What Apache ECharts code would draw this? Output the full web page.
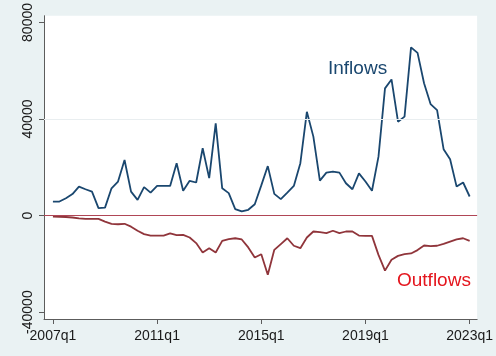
<!DOCTYPE html>
<html>
<head>
<meta charset="utf-8">
<script src="https://cdn.jsdelivr.net/npm/echarts@6/dist/echarts.min.js"></script>
<style>
  html, body { margin: 0; padding: 0; background: #eaf2f3; }
  #chart { width: 496px; height: 356px; }
</style>
</head>
<body>
<div id="chart"></div>
<script>
// Quarterly flows, 2007q1 .. 2023q1
const quarters = [];
for (let y = 2007; y <= 2023; y++) {
  for (let q = 1; q <= 4; q++) {
    if (y === 2023 && q > 1) break;
    quarters.push(y + 'q' + q);
  }
}

const inflows = [
  5800, 5800, 7200, 8900, 12000, 10900, 9900, 3100, 3300, 11300,
  14100, 23000, 9900, 6500, 11800, 9500, 12300, 12300, 12300, 21700,
  10300, 14400, 13700, 27900, 15500, 38200, 11300, 9300, 2700, 1700,
  2400, 4700, 12500, 20500, 9000, 6800, 9500, 12300, 21700, 43000,
  32700, 14500, 17800, 18200, 17800, 13400, 10900, 17500, 14100, 10300,
  24400, 52700, 56400, 38900, 41000, 69700, 67400, 54800, 46200, 43700,
  27500, 23300, 12000, 13700, 7900
];

const outflows = [
  -400, -500, -600, -800, -1200, -1400, -1400, -1400, -2500, -3400,
  -3600, -3400, -4600, -6300, -7700, -8300, -8300, -8300, -7400, -8100,
  -8000, -9100, -11400, -15300, -13500, -15300, -10500, -9800, -9400, -9900,
  -13200, -17400, -16000, -24500, -14200, -11800, -9400, -12500, -13500, -9100,
  -6600, -6900, -7300, -6300, -7300, -6600, -6600, -8300, -8400, -8400,
  -16300, -22800, -18300, -16700, -16000, -15700, -14300, -12400, -12700, -12500,
  -11700, -10800, -9900, -9400, -10500
];

const xTickIdx = [0, 16, 32, 48, 64];
const yTicks = [-40000, 0, 40000, 80000];

const toPairs = arr => arr.map((v, i) => [i, v]);
const font = '"Liberation Sans", Arial, sans-serif';

const chart = echarts.init(document.getElementById('chart'), null, { renderer: 'canvas' });

chart.setOption({
  backgroundColor: '#eaf2f3',
  animation: false,
  grid: {
    left: 44, top: 15, width: 438, height: 304,
    show: true, backgroundColor: '#ffffff', borderWidth: 0
  },
  xAxis: {
    type: 'value',
    min: -1.37, max: 65.15,
    splitLine: { show: false },
    axisLine: { show: true, onZero: false, lineStyle: { color: '#5c5c5c', width: 1 } },
    axisTick: { show: true, customValues: xTickIdx, length: 5, lineStyle: { color: '#5c5c5c' } },
    axisLabel: {
      customValues: xTickIdx,
      formatter: v => quarters[Math.round(v)],
      color: '#1a1a1a', fontFamily: font, fontSize: 14, margin: 10
    }
  },
  yAxis: {
    type: 'value',
    min: -42850, max: 82800,
    splitLine: { show: false },
    axisLine: { show: true, onZero: false, lineStyle: { color: '#5c5c5c', width: 1 } },
    axisTick: { show: true, customValues: yTicks, length: 5, lineStyle: { color: '#5c5c5c' } },
    axisLabel: {
      customValues: yTicks,
      rotate: 90,
      formatter: v => String(v),
      color: '#1a1a1a', fontFamily: font, fontSize: 14, margin: 9
    }
  },
  series: [
    {
      name: 'Inflows',
      type: 'line',
      data: toPairs(inflows),
      showSymbol: false,
      lineStyle: { color: '#1a476f', width: 1.8 },
      z: 3,
      markLine: {
        silent: true,
        symbol: 'none',
        label: { show: false },
        data: [
          { yAxis: 40000, lineStyle: { color: '#e9eef0', width: 1, type: 'solid' } },
          { yAxis: 0, lineStyle: { color: '#b04656', width: 1.2, type: 'solid' } }
        ]
      }
    },
    {
      name: 'Outflows',
      type: 'line',
      data: toPairs(outflows),
      showSymbol: false,
      lineStyle: { color: '#90353b', width: 1.8 },
      z: 3
    }
  ],
  graphic: [
    {
      type: 'text', left: 328, top: 59,
      style: { text: 'Inflows', fill: '#1a476f', font: '19px ' + font }
    },
    {
      type: 'text', left: 397, top: 271,
      style: { text: 'Outflows', fill: '#e4151d', font: '19px ' + font }
    }
  ]
});
</script>
</body>
</html>
